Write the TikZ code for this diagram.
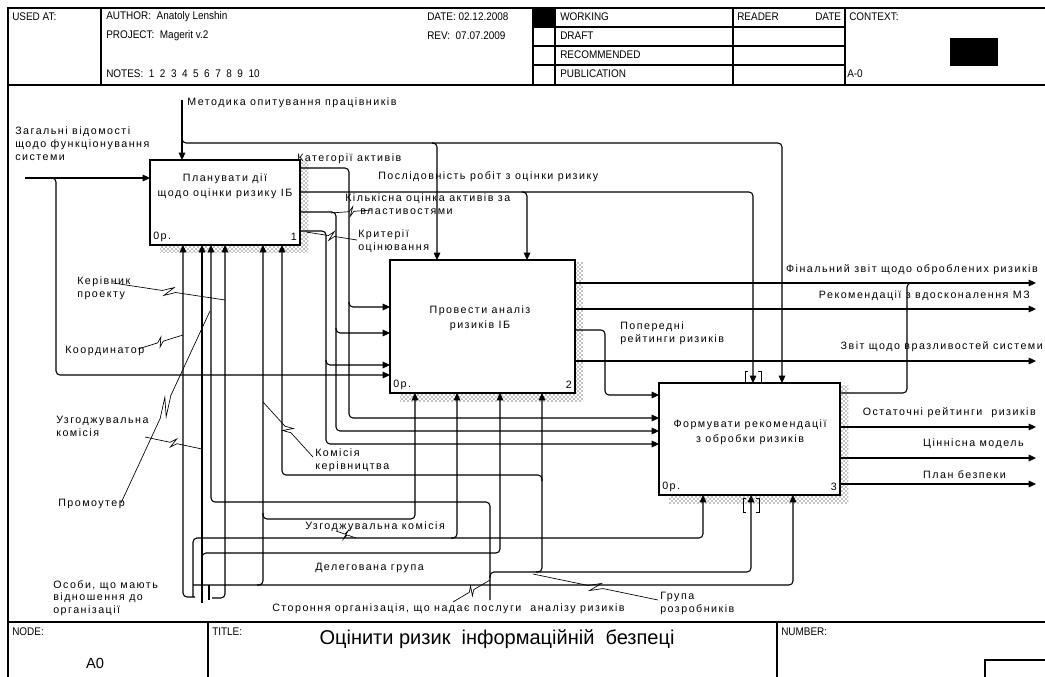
\documentclass[tikz,border=0pt]{standalone}
\usepackage{fontspec}
\setmainfont{Liberation Sans}
\newfontfamily\lblfont[LetterSpace=14]{Liberation Sans}
\newfontfamily\hdrfont[FakeStretch=0.9]{Liberation Sans}
\usetikzlibrary{arrows.meta,patterns,calc}
\newcommand\squig[2]{\draw[lead] (#1) -- ($(#1)!0.44!(#2)$) -- ($(#1)!0.54!(#2)!3.5pt!90:(#2)$) -- ($(#1)!0.46!(#2)!3.5pt!-90:(#2)$) -- ($(#1)!0.56!(#2)$) -- (#2);}
\begin{document}
\begin{tikzpicture}[x=0.75pt,y=-0.75pt,
  ln/.style={line width=0.8pt, rounded corners=3pt},
  arr/.style={ln, -{Triangle[length=5.5pt,width=5pt]}},
  lead/.style={line width=0.5pt},
  lbl/.style={font=\lblfont\fontsize{8}{9.5}\selectfont, inner sep=0pt, anchor=north west, align=left},
  boxtxt/.style={font=\lblfont\fontsize{8}{11}\selectfont, inner sep=0pt, align=center},
  hdr/.style={font=\hdrfont\fontsize{8.3}{9}\selectfont, inner sep=0pt, anchor=west},
  frame/.style={line width=0.8pt},
  procbox/.style={draw, line width=0.9pt, fill=white, inner sep=0pt, outer sep=0pt, anchor=north west},
  shadow/.style={pattern=crosshatch dots, pattern color=black},
]
\useasboundingbox (0,0) rectangle (1045,677);
\fill[white] (0,0) rectangle (1045,677);
% ---------- frame ----------
\draw[frame] (1045,8) -- (8,8) -- (8,677);
\draw[frame] (8,85) -- (1045,85);
\draw[frame] (8,622) -- (1045,622);
\foreach \xx in {101,533,555,733,845} \draw[frame] (\xx,8) -- (\xx,85);
\foreach \yy in {27,46,65} \draw[frame] (533,\yy) -- (845,\yy);
\fill (533,8) rectangle (555,27);
\fill (950,38) rectangle (998,66);
\draw[frame] (208,622) -- (208,677);
\draw[frame] (777,622) -- (777,677);
\draw[frame] (985,680) -- (985,660) -- (1045,660);
% header texts
\node[hdr] (h1) at (12,17) {USED AT:};
\node[hdr] (h2) at (106,17) {AUTHOR:\ \ Anatoly Lenshin};
\node[hdr] (h3) at (106,36) {PROJECT:\ \ Magerit v.2};
\node[hdr] (h4) at (106,74) {NOTES:\ \ 1\ \ 2\ \ 3\ \ 4\ \ 5\ \ 6\ \ 7\ \ 8\ \ 9\ \ 10};
\node[hdr] (h5) at (427,17) {DATE: 02.12.2008};
\node[hdr] (h6) at (427,36) {REV:\ \ 07.07.2009};
\node[hdr] (h7) at (560,17) {WORKING};
\node[hdr] (h8) at (560,36) {DRAFT};
\node[hdr] (h9) at (560,55) {RECOMMENDED};
\node[hdr] (h10) at (560,74) {PUBLICATION};
\node[hdr] (h11) at (737,17) {READER};
\node[hdr] (h12) at (815,17) {DATE};
\node[hdr] (h13) at (849,17) {CONTEXT:};
\node[hdr] (h14) at (847,74) {A-0};
\node[hdr] (f1) at (12,632) {NODE:};
\node[hdr] (f2) at (212,632) {TITLE:};
\node[hdr] (f3) at (781,632) {NUMBER:};
\node[font=\fontsize{11}{12}\selectfont, inner sep=0pt] (f4) at (95,663) {A0};
\node[font=\fontsize{15}{17}\selectfont, inner sep=0pt] (f5) at (497,639) {Оцінити ризик\ \ інформаційній\ \ безпеці};
% ---------- boxes ----------
\path[shadow] (160,162) rectangle (308,253);
\path[shadow] (400,262) rectangle (583,401);
\path[shadow] (669,385) rectangle (848,503);
\node[procbox, minimum width=112.5pt, minimum height=63.75pt] (b1) at (150,160) {};
\node[procbox, minimum width=138.75pt, minimum height=99.75pt] (b2) at (390,260) {};
\node[procbox, minimum width=135.75pt, minimum height=84pt] (b3) at (659,383) {};
\node[boxtxt] (t1) at (225,186) {Планувати дії\\щодо оцінки ризику ІБ};
\node[boxtxt] (t2) at (480,318) {Провести аналіз\\ризиків ІБ};
\node[boxtxt] (t3) at (750,432) {Формувати рекомендації\\з обробки ризиків};
\node[lbl, anchor=west] (n1a) at (153,237) {0р.};
\node[lbl, anchor=east] (n1b) at (297,237) {1};
\node[lbl, anchor=west] (n2a) at (393,385) {0р.};
\node[lbl, anchor=east] (n2b) at (572,385) {2};
\node[lbl, anchor=west] (n3a) at (662,487) {0р.};
\node[lbl, anchor=east] (n3b) at (837,487) {3};
% ---------- controls ----------
\coordinate (mt) at (182,100);
\draw[arr] (mt) -- (182,0 |- b1.north);
\draw[arr] (182,136) -- (182,143) -- (782,143) -- (782,0 |- b3.north);
\draw[arr] (432,143) -- (437,143) -- (437,0 |- b2.north);
\draw[arr] (b1.east |- 0,192) -- (753,192) -- (753,0 |- b3.north);
\draw[arr] (522,192) -- (527,192) -- (527,0 |- b2.north);
% tunnel brackets
\draw[lead] (748,371) -- (745,371) -- (745,382) -- (748,382);
\draw[lead] (758,371) -- (761,371) -- (761,382) -- (758,382);
\draw[lead] (746,498) -- (743,498) -- (743,512) -- (746,512);
\draw[lead] (756,498) -- (759,498) -- (759,512) -- (756,512);
% ---------- inputs ----------
\coordinate (gin) at (25,178);
\draw[arr] (gin) -- (b1.west |- 0,178);
\draw[arr] (50,178) -- (56,178) -- (56,375) -- (b2.west |- 0,375);
\draw[arr] (b1.east |- 0,168) -- (349,168) -- (349,418) -- (b3.west |- 0,418);
\draw[arr] (349,302) -- (349,307) -- (b2.west |- 0,307);
\draw[arr] (b1.east |- 0,212) -- (336,212) -- (336,431) -- (b3.west |- 0,431);
\draw[arr] (336,328) -- (336,333) -- (b2.west |- 0,333);
\draw[arr] (b1.east |- 0,231) -- (326,231) -- (326,444) -- (b3.west |- 0,444);
\draw[arr] (326,360) -- (326,365) -- (b2.west |- 0,365);
% ---------- outputs ----------
\coordinate (o1) at (1036,283);
\coordinate (o2) at (1036,309);
\coordinate (o3) at (1036,361);
\coordinate (o4) at (1036,427);
\coordinate (o5) at (1036,458);
\coordinate (o6) at (1036,484);
\draw[arr] (b2.east |- o1) -- (o1);
\draw[arr] (b2.east |- o2) -- (o2);
\draw[arr] (b2.east |- o3) -- (o3);
\draw[arr] (b2.east |- 0,330) -- (605,330) -- (605,395) -- (b3.west |- 0,395);
\draw[ln] (b3.east |- 0,393) -- (907,393) -- (907,283) -- (913,283);
\draw[arr] (b3.east |- o4) -- (o4);
\draw[arr] (b3.east |- o5) -- (o5);
\draw[arr] (b3.east |- o6) -- (o6);
% ---------- mechanisms ----------
\draw[arr] (195,597) -- (183,597) -- (183,0 |- b1.south);
\draw[arr] (202,603) -- (202,0 |- b1.south);
\coordinate (st) at (490,600);
\draw[arr] (st) -- (490,502) -- (211,502) -- (211,0 |- b1.south);
\draw[arr] (212,598) -- (225,598) -- (225,0 |- b1.south);
\draw[arr] (257,585) -- (263,585) -- (263,0 |- b1.south);
\draw[arr] (542,481) -- (542,475) -- (282,475) -- (282,0 |- b1.south);
\draw[arr] (263,513) -- (263,519) -- (415,519) -- (415,0 |- b2.south);
\draw[arr] (193,597) -- (193,538) -- (703,538) -- (703,0 |- b3.south);
\draw[arr] (451,538) -- (457,538) -- (457,0 |- b2.south);
\draw[arr] (202,559) -- (202,553) -- (500,553) -- (500,0 |- b2.south);
\draw[arr] (490,578) -- (490,572) -- (751,572) -- (751,0 |- b3.south);
\draw[arr] (536,572) -- (542,572) -- (542,0 |- b2.south);
\draw[arr] (193,585) -- (793,585) -- (793,0 |- b3.south);
\draw[ln] (209,585) -- (209,600);
% ---------- labels ----------
\node[lbl] (l1) at (187,98) {Методика опитування працівників};
\node[lbl] (l2) at (15,127) {Загальні відомості\\щодо функціонування\\системи};
\node[lbl] (l3) at (297,154) {Категорії активів};
\node[lbl] (l4) at (378,171) {Послідовність робіт з оцінки ризику};
\node[lbl] (l5) at (345,194) {Кількісна оцінка активів за};
\node[lbl] (l5b) at (360,208) {властивостями};
\node[lbl] (l6) at (358,230) {Критерії\\оцінювання};
\node[lbl, anchor=north east] (l7) at (1038,264) {Фінальний звіт щодо оброблених ризиків};
\node[lbl, anchor=north east] (l8) at (1030,291) {Рекомендації з вдосконалення МЗ};
\node[lbl] (l9) at (620,322) {Попередні\\рейтинги ризиків};
\node[lbl, anchor=north east] (l10) at (1043,341) {Звіт щодо вразливостей системи};
\node[lbl, anchor=north east] (l11) at (1036,407) {Остаточні рейтинги\ \ ризиків};
\node[lbl, anchor=north east] (l12) at (1024,439) {Ціннісна модель};
\node[lbl, anchor=north east] (l13) at (1006,470) {План безпеки};
\node[lbl] (l14) at (77,277) {Керівник\\проекту};
\node[lbl] (l15) at (65,346) {Координатор};
\node[lbl] (l16) at (56,416) {Узгоджувальна\\комісія};
\node[lbl] (l17) at (58,499) {Промоутер};
\node[lbl] (l18) at (315,449) {Комісія\\керівництва};
\node[lbl] (l19) at (305,521) {Узгоджувальна комісія};
\node[lbl] (l20) at (315,563) {Делегована група};
\node[lbl] (l21) at (53,580) {Особи, що мають\\відношення до\\організації};
\node[lbl] (l22) at (272,603) {Стороння організація, що надає послуги\ \ аналізу ризиків};
\node[lbl] (l23) at (660,592) {Група\\розробників};
% ---------- leaders ----------
\coordinate (k1a) at (372,210); \coordinate (k1b) at (331,213); \squig{k1a}{k1b}
\coordinate (k2a) at (357,240); \coordinate (k2b) at (306,232); \squig{k2a}{k2b}
\coordinate (k3a) at (113,283); \coordinate (k3b) at (225,300); \squig{k3a}{k3b}
\coordinate (k4a) at (138,349); \coordinate (k4b) at (183,335); \squig{k4a}{k4b}
\coordinate (k5a) at (145,437); \coordinate (k5b) at (202,449); \squig{k5a}{k5b}
\coordinate (k6a) at (121,503); \coordinate (k6b) at (210,311); \squig{k6a}{k6b}
\coordinate (k7a) at (313,457); \coordinate (k7b) at (263,402); \squig{k7a}{k7b}
\coordinate (k8a) at (336,531); \coordinate (k8b) at (356,538); \squig{k8a}{k8b}
\coordinate (k9a) at (453,602); \coordinate (k9b) at (490,580); \squig{k9a}{k9b}
\coordinate (k10a) at (658,600); \coordinate (k10b) at (533,574); \squig{k10a}{k10b}
\end{tikzpicture}
\end{document}
